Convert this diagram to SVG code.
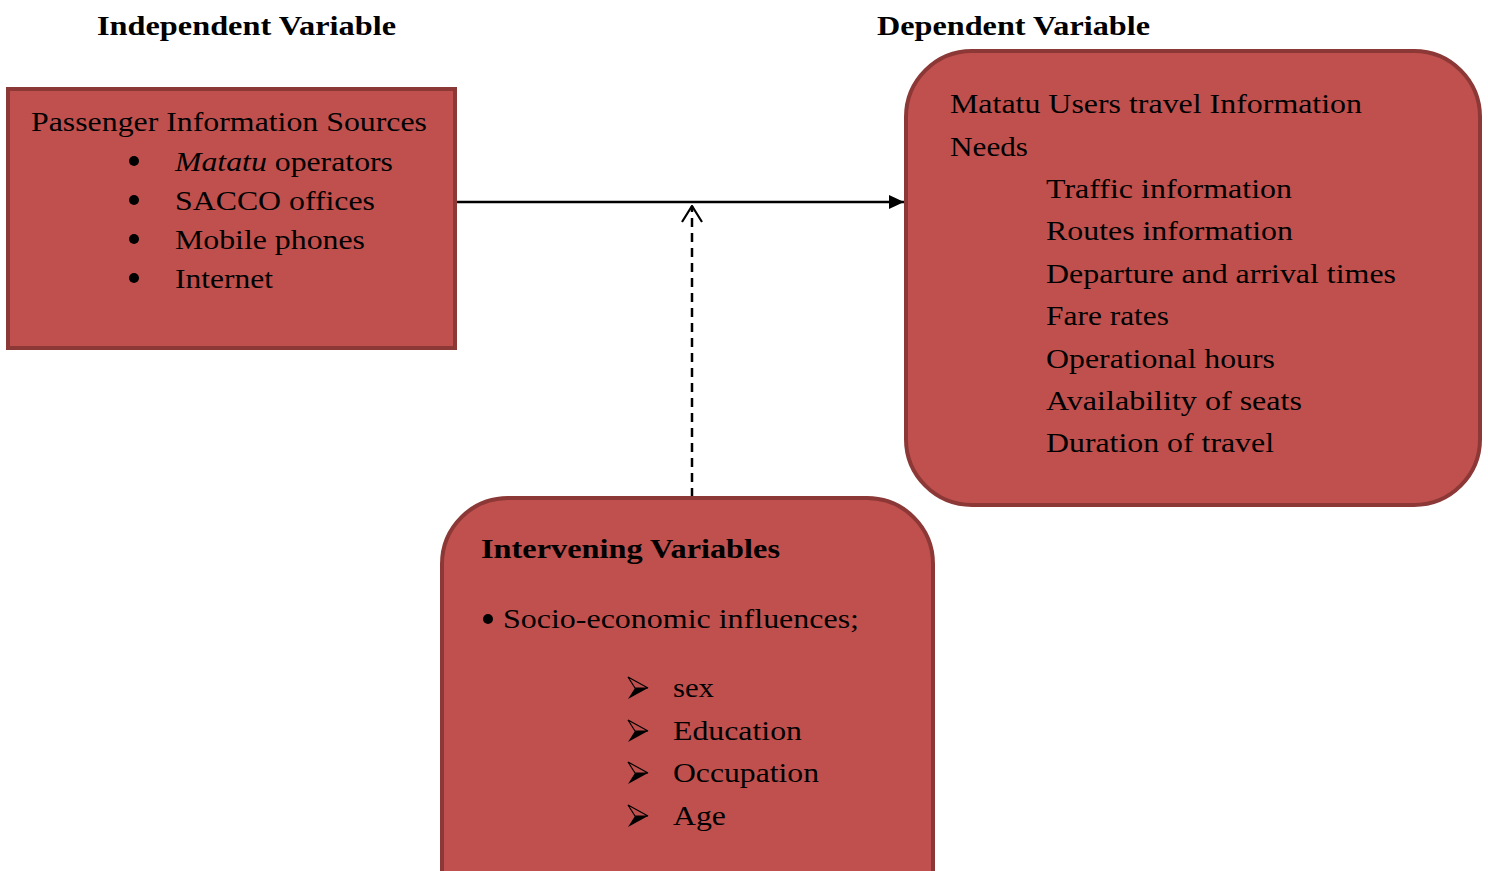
<svg xmlns="http://www.w3.org/2000/svg" width="1488" height="871" viewBox="0 0 1488 871">
<style>
.box{fill:#C0504D;stroke:#8C3836;stroke-width:4}
.t{font-family:"Liberation Serif","Times New Roman",serif;font-size:28px;fill:#000}
.h{font-family:"Liberation Serif","Times New Roman",serif;font-size:28px;font-weight:bold;fill:#000}
</style>
<defs>
<marker id="fillArrow" viewBox="0 0 15 14" refX="15" refY="7" markerWidth="15" markerHeight="14" markerUnits="userSpaceOnUse" orient="auto">
<path d="M0,0 L15,7 L0,14 Z" fill="#000"/>
</marker>
<marker id="openArrow" viewBox="0 0 18 22" refX="17" refY="11" markerWidth="18" markerHeight="22" markerUnits="userSpaceOnUse" orient="auto">
<path d="M1,1 L17,11 L1,21" fill="none" stroke="#000" stroke-width="2.2"/>
</marker>
<g id="chev">
<path d="M0,-11 L20,0 L7,0 Z" fill="none" stroke="#000" stroke-width="1.2" stroke-linejoin="miter"/>
<path d="M0,11 L20,0 L7,0 Z" fill="#000"/>
</g>
</defs>
<rect width="1488" height="871" fill="#fff"/>

<g id="titles">
<text class="h" x="97" y="35" textLength="299" lengthAdjust="spacingAndGlyphs">Independent Variable</text>
<text class="h" x="877" y="35" textLength="273" lengthAdjust="spacingAndGlyphs">Dependent Variable</text>
</g>

<g id="connectors">
<line x1="457" y1="202" x2="904" y2="202" stroke="#000" stroke-width="2.5" marker-end="url(#fillArrow)"/>
<line x1="692" y1="497" x2="692" y2="206" stroke="#000" stroke-width="2.5" stroke-dasharray="9,6" marker-end="url(#openArrow)"/>
</g>

<g id="independent">
<rect class="box" x="8" y="89" width="447" height="259"/>
<text class="t" x="31" y="131" textLength="396" lengthAdjust="spacingAndGlyphs">Passenger Information Sources</text>
<circle cx="134" cy="161" r="5"/>
<text class="t" x="175" y="171" textLength="218" lengthAdjust="spacingAndGlyphs"><tspan font-style="italic">Matatu</tspan> operators</text>
<circle cx="134" cy="200" r="5"/>
<text class="t" x="175" y="210" textLength="200" lengthAdjust="spacingAndGlyphs">SACCO offices</text>
<circle cx="134" cy="239" r="5"/>
<text class="t" x="175" y="249" textLength="190" lengthAdjust="spacingAndGlyphs">Mobile phones</text>
<circle cx="134" cy="278" r="5"/>
<text class="t" x="175" y="288" textLength="98" lengthAdjust="spacingAndGlyphs">Internet</text>
</g>

<g id="dependent">
<rect class="box" x="906" y="51" width="574" height="454" rx="66" ry="66"/>
<text class="t" x="950" y="113" textLength="412" lengthAdjust="spacingAndGlyphs">Matatu Users travel Information</text>
<text class="t" x="950" y="156" textLength="78" lengthAdjust="spacingAndGlyphs">Needs</text>
<text class="t" x="1046" y="198" textLength="246" lengthAdjust="spacingAndGlyphs">Traffic information</text>
<text class="t" x="1046" y="240" textLength="247" lengthAdjust="spacingAndGlyphs">Routes information</text>
<text class="t" x="1046" y="283" textLength="350" lengthAdjust="spacingAndGlyphs">Departure and arrival times</text>
<text class="t" x="1046" y="325" textLength="123" lengthAdjust="spacingAndGlyphs">Fare rates</text>
<text class="t" x="1046" y="368" textLength="229" lengthAdjust="spacingAndGlyphs">Operational hours</text>
<text class="t" x="1046" y="410" textLength="256" lengthAdjust="spacingAndGlyphs">Availability of seats</text>
<text class="t" x="1046" y="452" textLength="228" lengthAdjust="spacingAndGlyphs">Duration of travel</text>
</g>

<g id="intervening">
<rect class="box" x="442" y="498" width="491" height="440" rx="66" ry="66"/>
<text class="h" x="481" y="558" textLength="299" lengthAdjust="spacingAndGlyphs">Intervening Variables</text>
<circle cx="488" cy="619" r="5"/>
<text class="t" x="503" y="628" textLength="356" lengthAdjust="spacingAndGlyphs">Socio-economic influences;</text>
<use href="#chev" x="628" y="688"/>
<text class="t" x="673" y="697" textLength="41" lengthAdjust="spacingAndGlyphs">sex</text>
<use href="#chev" x="628" y="731"/>
<text class="t" x="673" y="740" textLength="129" lengthAdjust="spacingAndGlyphs">Education</text>
<use href="#chev" x="628" y="773"/>
<text class="t" x="673" y="782" textLength="146" lengthAdjust="spacingAndGlyphs">Occupation</text>
<use href="#chev" x="628" y="816"/>
<text class="t" x="673" y="825" textLength="53" lengthAdjust="spacingAndGlyphs">Age</text>
</g>
</svg>
